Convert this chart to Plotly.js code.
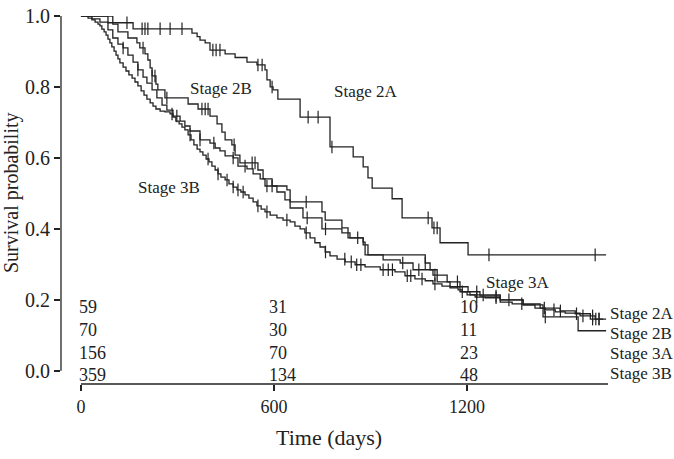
<!DOCTYPE html>
<html>
<head>
<meta charset="utf-8">
<script src="https://cdn.plot.ly/plotly-3.0.1.min.js"></script>
<style>html,body{margin:0;padding:0;background:#fff;}#chart{width:674px;height:459px;}</style>
</head>
<body>
<div id="chart"></div>
<script>
// ---- Data ----
const groups = ["Stage 2A", "Stage 2B", "Stage 3A", "Stage 3B"];

const t2A = [84,162,345,361,370,386,401,448,479,516,547,572,578,588,597,612,681,774,846,877,892,905,967,998,1091,1116,1203];
const s2A = [0.981,0.964,0.952,0.942,0.932,0.924,0.904,0.893,0.883,0.870,0.862,0.848,0.820,0.800,0.792,0.766,0.715,0.631,0.603,0.575,0.544,0.515,0.485,0.431,0.403,0.361,0.327];
const end2A = 1632;
const c2A = [143,190,199,208,246,277,314,410,420,432,550,563,594,706,737,780,1079,1097,1107,1268,1598];

const t2B = [99,115,146,174,183,199,208,215,221,233,239,261,333,364,401,423,438,448,469,479,494,550,566,594,640,650,749,759,811,830,877,883,1070,1085,1107,1147,1178,1209,1303,1374,1436,1545];
const s2B = [0.977,0.955,0.938,0.924,0.910,0.893,0.876,0.854,0.831,0.808,0.792,0.769,0.752,0.738,0.718,0.696,0.673,0.651,0.637,0.608,0.586,0.566,0.541,0.521,0.510,0.476,0.448,0.425,0.403,0.375,0.363,0.327,0.304,0.285,0.251,0.237,0.223,0.214,0.200,0.186,0.152,0.113];
const end2B = 1632;
const c2B = [193,221,230,267,376,386,395,476,532,541,594,700,1070,1250,1443];

const t3A = [34,59,84,99,115,131,146,162,177,193,205,221,236,252,267,286,308,323,339,370,401,417,432,448,473,488,516,535,557,572,609,634,650,690,749,811,836,877,892,939,992,1032,1094,1138,1178,1203,1240,1303,1374,1427,1489,1536,1583];
const s3A = [0.992,0.983,0.961,0.938,0.921,0.910,0.890,0.870,0.848,0.828,0.811,0.792,0.769,0.749,0.735,0.718,0.704,0.690,0.676,0.651,0.642,0.628,0.620,0.606,0.600,0.577,0.569,0.555,0.541,0.521,0.504,0.482,0.459,0.431,0.400,0.389,0.375,0.355,0.327,0.313,0.304,0.285,0.270,0.251,0.237,0.223,0.211,0.200,0.189,0.177,0.169,0.161,0.146];
const end3A = 1623;
const c3A = [131,177,298,370,413,473,510,578,703,760,860,1000,1050,1100,1170,1230,1290,1330,1440,1490,1540,1590,1610];

const t3B = [22,34,44,53,59,65,72,78,84,90,96,103,109,115,121,131,140,149,159,168,177,187,196,205,215,224,233,246,261,277,286,295,305,314,323,333,342,351,361,370,379,389,398,407,417,426,435,448,460,473,485,497,510,522,535,547,560,572,588,609,628,650,665,681,696,712,727,743,759,774,796,821,852,883,930,976,1007,1038,1070,1094,1122,1147,1172,1185,1200,1225,1256,1303,1340,1374,1411,1443,1474,1505,1551,1598];
const s3B = [0.994,0.989,0.983,0.977,0.972,0.963,0.955,0.946,0.935,0.924,0.913,0.901,0.890,0.879,0.868,0.856,0.845,0.834,0.825,0.814,0.803,0.789,0.777,0.766,0.755,0.746,0.738,0.732,0.730,0.724,0.715,0.704,0.696,0.687,0.679,0.665,0.651,0.637,0.625,0.617,0.608,0.597,0.589,0.577,0.566,0.555,0.546,0.538,0.527,0.518,0.510,0.504,0.496,0.487,0.476,0.465,0.456,0.448,0.439,0.431,0.425,0.420,0.408,0.400,0.389,0.375,0.361,0.349,0.335,0.324,0.315,0.307,0.299,0.293,0.285,0.279,0.268,0.259,0.254,0.245,0.239,0.234,0.228,0.223,0.214,0.208,0.206,0.194,0.189,0.186,0.177,0.172,0.166,0.163,0.155,0.146];
const end3B = 1632;
const c3B = [283,339,395,426,454,473,488,504,550,578,640,700,760,820,840,857,870,939,955,968,1014,1025,1060,1100,1185,1230,1290,1370,1470,1560,1590,1600,1610];

// Numbers at risk
const riskTimes = [0, 600, 1200];
const risk2A = [59, 31, 10];
const risk2B = [70, 30, 11];
const risk3A = [156, 70, 23];
const risk3B = [359, 134, 48];

const xTicks = [0, 600, 1200];
const yTicks = [0, 0.2, 0.4, 0.6, 0.8, 1.0];
const yTickText = ["0.0", "0.2", "0.4", "0.6", "0.8", "1.0"];

// ---- Build traces ----
const INK = "#222";
const SERIF = "Liberation Serif, Times New Roman, serif";

function stepAt(ts, ss, t) {
  let s = 1;
  for (let i = 0; i < ts.length; i++) { if (ts[i] <= t) s = ss[i]; }
  return s;
}
function curve(ts, ss, tEnd) {
  return {
    x: [0].concat(ts, [tEnd]),
    y: [1].concat(ss, [ss[ss.length - 1]]),
    type: "scatter", mode: "lines",
    line: { shape: "hv", color: INK, width: 1.3 },
    cliponaxis: false, hoverinfo: "skip", showlegend: false
  };
}
function censors(ts, ss, cs) {
  return {
    x: cs, y: cs.map(c => stepAt(ts, ss, c)),
    type: "scatter", mode: "markers",
    marker: { symbol: "line-ns-open", size: 9, color: INK, line: { color: INK, width: 1.2 } },
    cliponaxis: false, hoverinfo: "skip", showlegend: false
  };
}

const traces = [
  curve(t2A, s2A, end2A), censors(t2A, s2A, c2A),
  curve(t2B, s2B, end2B), censors(t2B, s2B, c2B),
  curve(t3A, s3A, end3A), censors(t3A, s3A, c3A),
  curve(t3B, s3B, end3B), censors(t3B, s3B, c3B)
];

// ---- Annotations ----
const ann = [];
const lbl = (text, x, y) => ann.push({ text, x, y, xref: "x", yref: "y", showarrow: false,
  font: { family: SERIF, size: 17, color: INK } });
lbl("Stage 2B", 435, 0.797);
lbl("Stage 2A", 886, 0.786);
lbl("Stage 3B", 274, 0.518);
lbl("Stage 3A", 1359, 0.248);

const riskRows = [risk2A, risk2B, risk3A, risk3B];
const riskY = [0.180, 0.115, 0.051, -0.011];
const colShift = [-4, -7, -9];
riskRows.forEach((row, r) => {
  row.forEach((v, c) => {
    ann.push({ text: String(v), x: riskTimes[c], y: riskY[r], xref: "x", yref: "y",
      xanchor: "left", yanchor: "middle", xshift: colShift[c], showarrow: false,
      font: { family: SERIF, size: 18, color: INK } });
  });
});
const rowLabelY = [0.161, 0.104, 0.048, -0.008];
groups.forEach((g, i) => {
  ann.push({ text: g, x: 1, y: rowLabelY[i], xref: "paper", yref: "y",
    xanchor: "left", yanchor: "middle", xshift: -1, showarrow: false,
    font: { family: SERIF, size: 17, color: INK } });
});
// axis titles
ann.push({ text: "Time (days)", x: 0.489, y: 0, xref: "paper", yref: "paper",
  yshift: -53, yanchor: "middle", showarrow: false,
  font: { family: SERIF, size: 22, color: INK } });
ann.push({ text: "Survival probability", x: 0, y: 0.519, xref: "paper", yref: "paper",
  xshift: -50, textangle: -90, xanchor: "center", yanchor: "middle", showarrow: false,
  font: { family: SERIF, size: 20, color: INK } });

const layout = {
  width: 674, height: 459,
  margin: { l: 61, r: 65, t: 16, b: 75 },
  paper_bgcolor: "#fff", plot_bgcolor: "#fff",
  showlegend: false,
  xaxis: {
    range: [-62, 1641], tickvals: xTicks, ticks: "outside", ticklen: 6, tickwidth: 1.3,
    tickcolor: INK, showline: false, zeroline: false, showgrid: false,
    tickfont: { family: SERIF, size: 18, color: INK }
  },
  yaxis: {
    range: [-0.037, 1.0], tickvals: yTicks, ticktext: yTickText, ticks: "outside",
    ticklen: 6, tickwidth: 1.3, tickcolor: INK, showline: false, zeroline: false,
    showgrid: false, tickfont: { family: SERIF, size: 20, color: INK }
  },
  shapes: [
    { type: "line", xref: "paper", yref: "y", x0: 0, x1: 0, y0: 0, y1: 1,
      line: { color: INK, width: 1.3 } },
    { type: "line", xref: "x", yref: "paper", x0: 0, x1: 1638, y0: 0, y1: 0,
      line: { color: INK, width: 1.3 } }
  ],
  annotations: ann
};

Plotly.newPlot("chart", traces, layout, { displayModeBar: false, staticPlot: true });
</script>
</body>
</html>
